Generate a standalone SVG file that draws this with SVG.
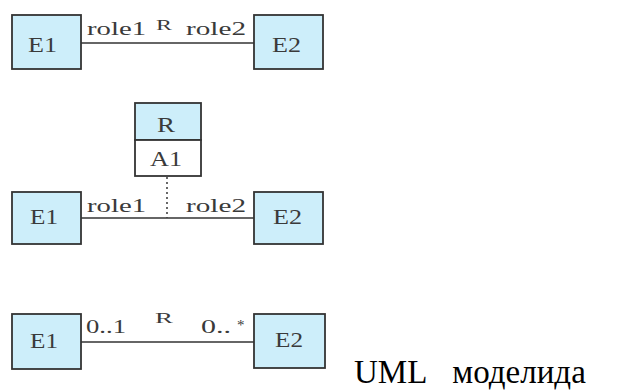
<svg xmlns="http://www.w3.org/2000/svg" width="617" height="392" viewBox="0 0 617 392">
<style>
.box{fill:#cdeefa;stroke:#333;stroke-width:1.8}
.wbox{fill:#fff;stroke:#333;stroke-width:1.8}
.ln{stroke:#333;stroke-width:1.6;fill:none}
.dot{stroke:#444;stroke-width:1.6;stroke-dasharray:2 3;fill:none}
.lbl{font-family:"Liberation Serif","DejaVu Serif",serif;font-size:21px;fill:#3a3a3a}
.role{font-family:"Liberation Serif","DejaVu Serif",serif;font-size:19px;fill:#3a3a3a}
.sm{font-family:"Liberation Serif","DejaVu Serif",serif;font-size:15px;fill:#3a3a3a}
.cap{font-family:"Liberation Serif","Times New Roman",serif;font-size:33px;fill:#000}
</style>
<rect width="617" height="392" fill="#fff"/>
<g id="connectors">
<line class="ln" x1="81" y1="43" x2="254" y2="43"/>
<line class="ln" x1="81" y1="218" x2="254" y2="218"/>
<line class="dot" x1="167" y1="177" x2="167" y2="218"/>
<line class="ln" x1="81" y1="342" x2="254" y2="342"/>
<text class="role" x="87" y="35" textLength="59" lengthAdjust="spacingAndGlyphs">role1</text>
<text class="sm" x="156" y="30" textLength="16" lengthAdjust="spacingAndGlyphs">R</text>
<text class="role" x="186" y="35" textLength="60" lengthAdjust="spacingAndGlyphs">role2</text>
<text class="role" x="87" y="212" textLength="59" lengthAdjust="spacingAndGlyphs">role1</text>
<text class="role" x="186" y="212" textLength="60" lengthAdjust="spacingAndGlyphs">role2</text>
<text class="role" x="86" y="333" textLength="40" lengthAdjust="spacingAndGlyphs">0..1</text>
<text class="sm" x="155" y="323" textLength="18" lengthAdjust="spacingAndGlyphs">R</text>
<text class="role" x="201" y="333" textLength="30" lengthAdjust="spacingAndGlyphs">0..</text>
<text class="sm" x="237" y="330">*</text>
</g>
<g id="e1-top">
<rect class="box" x="12" y="15" width="69" height="54"/>
<text class="lbl" x="28" y="52" textLength="29" lengthAdjust="spacingAndGlyphs">E1</text>
</g>
<g id="e2-top">
<rect class="box" x="254" y="15" width="69" height="54"/>
<text class="lbl" x="272" y="52" textLength="29" lengthAdjust="spacingAndGlyphs">E2</text>
</g>
<g id="r-class">
<rect class="box" x="135" y="103" width="66" height="37"/>
<rect class="wbox" x="135" y="140" width="66" height="36"/>
<text class="lbl" x="157" y="132" textLength="18" lengthAdjust="spacingAndGlyphs">R</text>
<text class="lbl" x="150" y="166" textLength="32" lengthAdjust="spacingAndGlyphs">A1</text>
</g>
<g id="e1-mid">
<rect class="box" x="12" y="192" width="69" height="52"/>
<text class="lbl" x="30" y="224" textLength="28" lengthAdjust="spacingAndGlyphs">E1</text>
</g>
<g id="e2-mid">
<rect class="box" x="254" y="192" width="69" height="52"/>
<text class="lbl" x="273" y="224" textLength="29" lengthAdjust="spacingAndGlyphs">E2</text>
</g>
<g id="e1-bot">
<rect class="box" x="12" y="314" width="69" height="55"/>
<text class="lbl" x="30" y="348" textLength="28" lengthAdjust="spacingAndGlyphs">E1</text>
</g>
<g id="e2-bot">
<rect class="box" x="254" y="314" width="71" height="54"/>
<text class="lbl" x="275" y="347" textLength="28" lengthAdjust="spacingAndGlyphs">E2</text>
</g>
<text class="cap" x="354" y="383" word-spacing="18">UML моделида</text>
</svg>
